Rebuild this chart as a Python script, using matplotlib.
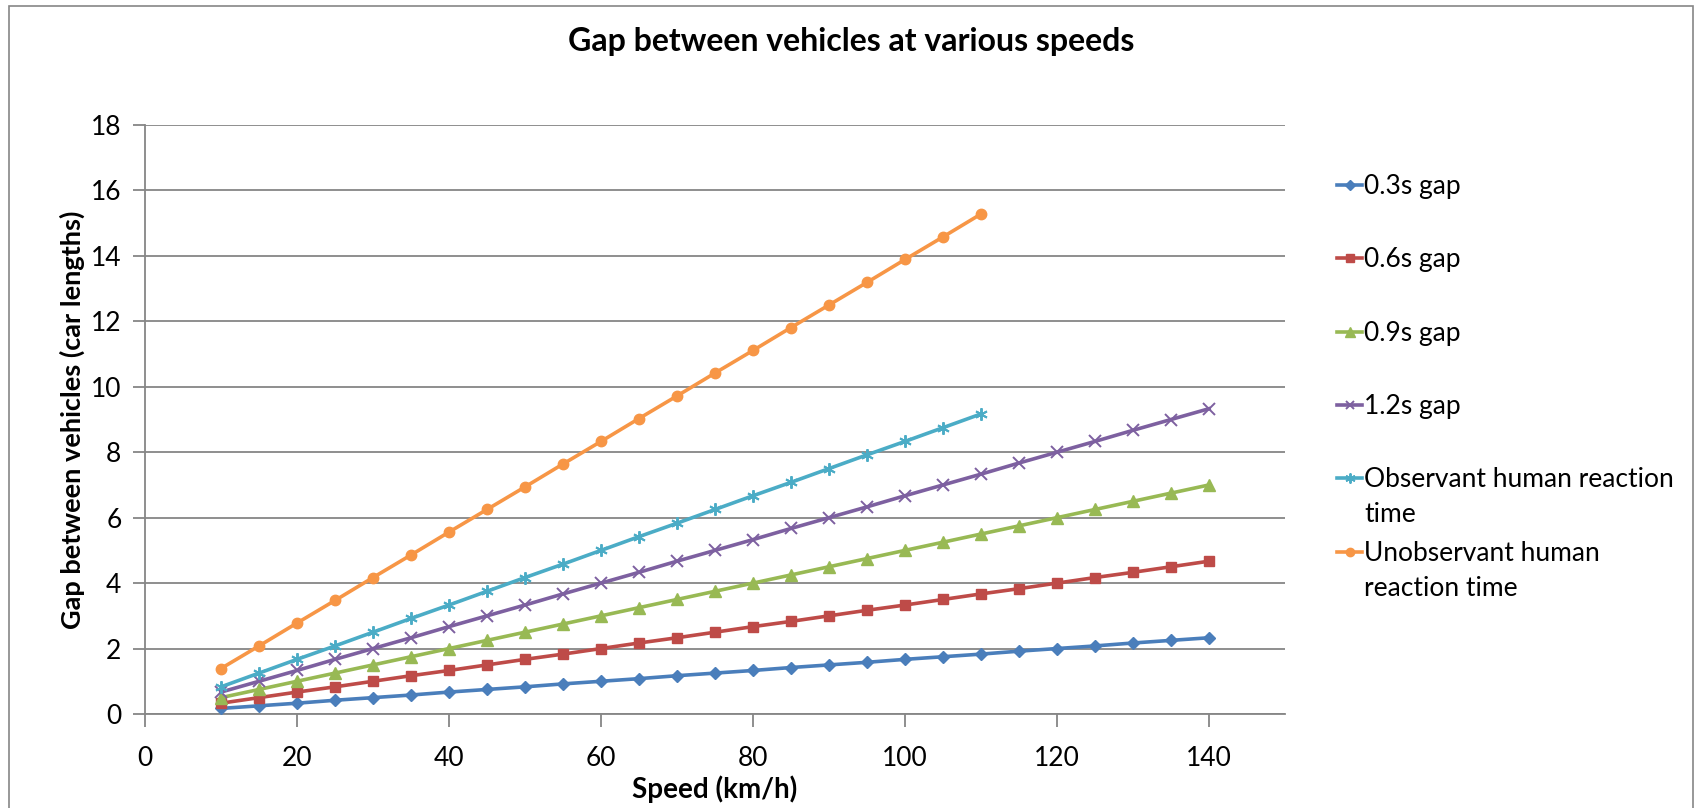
import matplotlib
matplotlib.use("Agg")
import matplotlib.pyplot as plt
from matplotlib.lines import Line2D
from matplotlib.patches import Rectangle

plt.rcParams['font.family'] = ['Lato', 'DejaVu Sans']

speeds = [10, 15, 20, 25, 30, 35, 40, 45, 50, 55, 60, 65, 70, 75, 80, 85, 90,
          95, 100, 105, 110, 115, 120, 125, 130, 135, 140]
speeds_human = [10, 15, 20, 25, 30, 35, 40, 45, 50, 55, 60, 65, 70, 75, 80,
                85, 90, 95, 100, 105, 110]

gap_03 = [0.17, 0.25, 0.33, 0.42, 0.50, 0.58, 0.67, 0.75, 0.83, 0.92, 1.00,
          1.08, 1.17, 1.25, 1.33, 1.42, 1.50, 1.58, 1.67, 1.75, 1.83, 1.92,
          2.00, 2.08, 2.17, 2.25, 2.33]
gap_06 = [0.33, 0.50, 0.67, 0.83, 1.00, 1.17, 1.33, 1.50, 1.67, 1.83, 2.00,
          2.17, 2.33, 2.50, 2.67, 2.83, 3.00, 3.17, 3.33, 3.50, 3.67, 3.83,
          4.00, 4.17, 4.33, 4.50, 4.67]
gap_09 = [0.50, 0.75, 1.00, 1.25, 1.50, 1.75, 2.00, 2.25, 2.50, 2.75, 3.00,
          3.25, 3.50, 3.75, 4.00, 4.25, 4.50, 4.75, 5.00, 5.25, 5.50, 5.75,
          6.00, 6.25, 6.50, 6.75, 7.00]
gap_12 = [0.67, 1.00, 1.33, 1.67, 2.00, 2.33, 2.67, 3.00, 3.33, 3.67, 4.00,
          4.33, 4.67, 5.00, 5.33, 5.67, 6.00, 6.33, 6.67, 7.00, 7.33, 7.67,
          8.00, 8.33, 8.67, 9.00, 9.33]
observant = [0.83, 1.25, 1.67, 2.08, 2.50, 2.92, 3.33, 3.75, 4.17, 4.58, 5.00,
             5.42, 5.83, 6.25, 6.67, 7.08, 7.50, 7.92, 8.33, 8.75, 9.17]
unobservant = [1.39, 2.08, 2.78, 3.47, 4.17, 4.86, 5.56, 6.25, 6.94, 7.64,
               8.33, 9.03, 9.72, 10.42, 11.11, 11.81, 12.50, 13.19, 13.89,
               14.58, 15.28]

labels = ["0.3s gap", "0.6s gap", "0.9s gap", "1.2s gap",
          "Observant human reaction\ntime", "Unobservant human\nreaction time"]
x_ticks = [0, 20, 40, 60, 80, 100, 120, 140]
y_ticks = [0, 2, 4, 6, 8, 10, 12, 14, 16, 18]

W, H = 1698, 808
fig = plt.figure(figsize=(W / 100, H / 100), dpi=100)
fig.patch.set_facecolor('white')

# chart border
fig.add_artist(Rectangle((9 / W, -0.01), (1693 - 9) / W, (H - 6) / H + 0.01,
                         transform=fig.transFigure, fill=False,
                         edgecolor='#868686', linewidth=1.2))

ax_l, ax_r, ax_t, ax_b = 145, 1285, 125, 714
ax = fig.add_axes([ax_l / W, (H - ax_b) / H, (ax_r - ax_l) / W, (ax_b - ax_t) / H])

series = [
    (speeds, gap_03, '#4A7EBB', 'D', 6.5, dict()),
    (speeds, gap_06, '#BE4B48', 's', 7.5, dict()),
    (speeds, gap_09, '#98B954', '^', 8.5, dict()),
    (speeds, gap_12, '#7D60A0', 'x', 8, dict(markeredgewidth=1.4)),
    (speeds_human, observant, '#4BACC6', (6, 2, 0), 9, dict(markeredgewidth=1.4)),
    (speeds_human, unobservant, '#F79646', 'o', 7.5, dict()),
]

for (xs, ys, c, m, ms, kw) in series:
    ax.plot(xs, ys, color=c, linewidth=2.6, marker=m, markersize=ms,
            markerfacecolor=c, markeredgecolor=c, zorder=3, **kw)

ax.set_xlim(0, 150)
ax.set_ylim(0, 18)
ax.set_xticks(x_ticks)
ax.set_yticks(y_ticks)
ax.grid(axis='y', color='#868686', linewidth=1.3)
ax.set_axisbelow(True)
for s in ['top', 'right']:
    ax.spines[s].set_visible(False)
for s in ['left', 'bottom']:
    ax.spines[s].set_color('#868686')
    ax.spines[s].set_linewidth(1.3)
ax.tick_params(axis='both', direction='out', length=9, width=1.3,
               color='#868686', labelsize=19, labelcolor='black')
ax.tick_params(axis='x', pad=14)
ax.tick_params(axis='y', pad=8)

ax.set_xlabel("Speed (km/h)", fontsize=20, fontweight='bold')
ax.set_ylabel("Gap between vehicles (car lengths)", fontsize=19.5,
              fontweight='bold')
ax.xaxis.label.set_va('center')
ax.yaxis.label.set_va('center')
ax.xaxis.set_label_coords(0.5, -(789 - ax_b) / (ax_b - ax_t))
ax.yaxis.set_label_coords(-(ax_l - 72) / (ax_r - ax_l), 0.5)

fig.text(851 / W, 1 - 41 / H, "Gap between vehicles at various speeds",
         fontsize=23, fontweight='bold', ha='center', va='center')

# legend
handle_y = [185, 258, 332, 405, 478, 552]
line_pitch = 35
for (xs, ys, c, m, ms, kw), lab, hy in zip(series, labels, handle_y):
    yf = 1 - hy / H
    fig.add_artist(Line2D([1337 / W, 1362 / W], [yf, yf],
                          transform=fig.transFigure, color=c, linewidth=2.6))
    fig.add_artist(Line2D([1349.5 / W], [yf], transform=fig.transFigure,
                          color=c, marker=m, markersize=ms * 0.8,
                          markerfacecolor=c, markeredgecolor=c, **kw))
    for i, part in enumerate(lab.split("\n")):
        fig.text(1364 / W, 1 - (hy + 9 + i * line_pitch) / H, part,
                 fontsize=19, ha='left', va='baseline')

fig.savefig("out.png", dpi=100, facecolor='white')
